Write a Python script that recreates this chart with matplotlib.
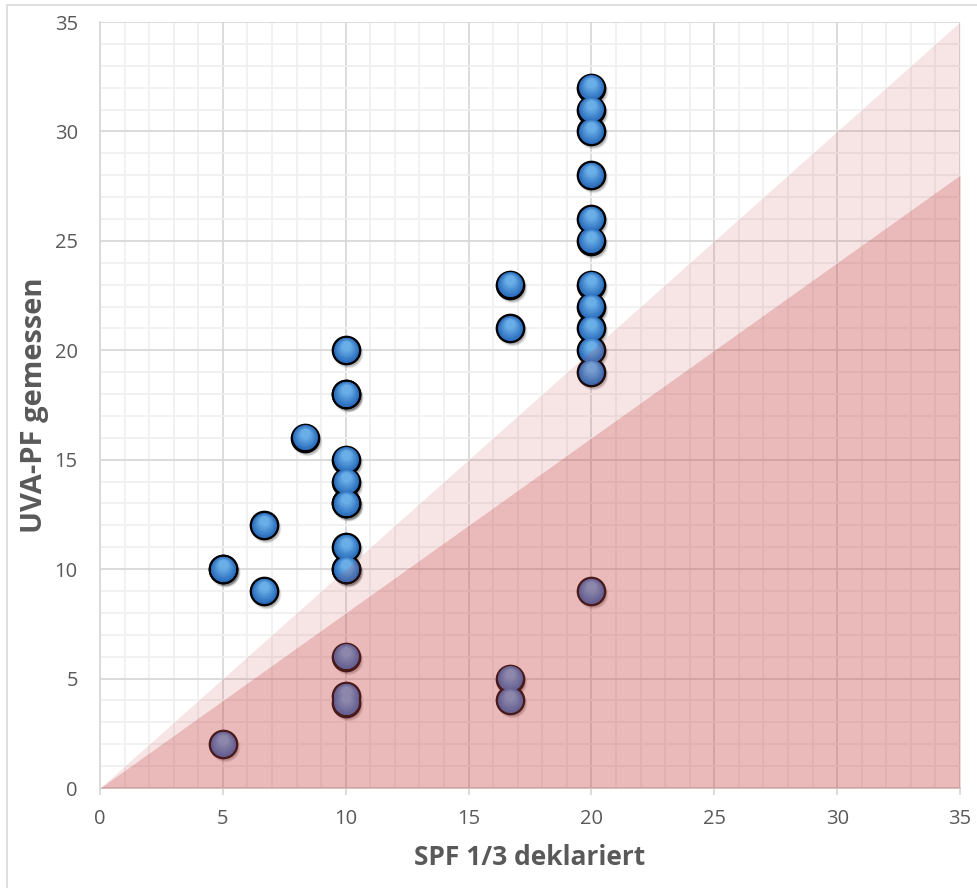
import numpy as np
import matplotlib
matplotlib.use("Agg")
import matplotlib.pyplot as plt
from matplotlib.transforms import offset_copy
from matplotlib.patches import Rectangle
from matplotlib.ticker import MultipleLocator
import matplotlib.colors as mcolors

# ---- data ----
spf_third = [20, 20, 20, 20, 20, 20, 20, 20, 20, 20, 20, 20,
             16.67, 16.67, 16.67, 16.67,
             10, 10, 10, 10, 10, 10, 10, 10, 10, 10, 10, 10, 10,
             8.33, 6.67, 6.67, 5, 5, 5]
uva_pf = [32, 31, 30, 28, 26, 25, 23, 22, 21, 20, 19, 9,
          23, 21, 5, 4,
          20, 18, 18, 15, 14, 13, 13, 11, 10, 6, 4.2, 3.9, 10,
          16, 12, 9, 10, 10, 2]
x_ticks = [0, 5, 10, 15, 20, 25, 30, 35]
y_ticks = [0, 5, 10, 15, 20, 25, 30, 35]
ratio_upper = 1.0   # UVA-PF = SPF/3 line
ratio_lower = 0.8   # UVA-PF = 0.8 * SPF/3 line
x_label = "SPF 1/3 deklariert"
y_label = "UVA-PF gemessen"

plt.rcParams['font.family'] = ['Open Sans', 'DejaVu Sans']

W, H, DPI = 978, 888, 100
fig = plt.figure(figsize=(W / DPI, H / DPI), dpi=DPI)
fig.patch.set_facecolor('white')
ax = fig.add_axes([100 / W, 1 - 788 / H, 860 / W, 766 / H])

# outer frame
fig.patches.append(Rectangle((7 / W, -0.1), 1.2, 1 - 5 / H + 0.1, transform=fig.transFigure,
                             fill=False, edgecolor='#D9D9D9', linewidth=1.2, zorder=0))

ax.set_xlim(0, 35)
ax.set_ylim(0, 35)
ax.xaxis.set_major_locator(MultipleLocator(5))
ax.yaxis.set_major_locator(MultipleLocator(5))
ax.xaxis.set_minor_locator(MultipleLocator(1))
ax.yaxis.set_minor_locator(MultipleLocator(1))
ax.set_xticks(x_ticks)
ax.set_yticks(y_ticks)
ax.grid(which='major', color='#D9D9D9', linewidth=1.3, zorder=0)
ax.grid(which='minor', color='#F0F0F0', linewidth=1.3, zorder=0)
ax.set_axisbelow(True)
for s in ['top', 'right']:
    ax.spines[s].set_visible(False)
for s in ['left', 'bottom']:
    ax.spines[s].set_color('#D9D9D9')
    ax.spines[s].set_linewidth(1.3)
ax.tick_params(axis='x', which='major', length=5, width=1.3, color='#D9D9D9',
               labelsize=14.5, labelcolor='#595959', pad=10)
ax.tick_params(axis='y', which='major', length=0, labelsize=14.5, labelcolor='#595959', pad=16)
ax.tick_params(which='minor', length=0)

ax.set_xlabel(x_label, fontsize=19, fontweight='bold', color='#595959', labelpad=11)
ax.set_ylabel(y_label, fontsize=21, fontweight='bold', color='#595959', labelpad=4)

# ---- markers ----
xs = np.array(spf_third)
ys = np.array(uva_pf)
S = 360
# shadow
for k, (grow, a) in enumerate([(1.3, 0.06), (1.15, 0.10), (1.0, 0.15)]):
    tr = offset_copy(ax.transData, fig=fig, x=2, y=-3, units='dots')
    ax.scatter(xs, ys, s=S * grow, color='black', alpha=a, linewidths=0, transform=tr, zorder=2)
# body
ax.scatter(xs, ys, s=S, facecolor='#245FA3', edgecolor='black', linewidths=2.4, zorder=3)
c0 = np.array(mcolors.to_rgb('#2A6EBD'))
c1 = np.array(mcolors.to_rgb('#6AAEE8'))
N = 10
r_pts = np.sqrt(S) / 2
for i in range(N):
    t = i / (N - 1)
    f = 0.95 - 0.6 * t
    shift = (1 - f) * r_pts * 0.55
    col = c0 * (1 - t) + c1 * t
    tr = offset_copy(ax.transData, fig=fig, x=0, y=shift, units='points')
    ax.scatter(xs, ys, s=S * f * f, color=col, linewidths=0, transform=tr, zorder=4)

# ---- shaded regions (drawn over markers, translucent) ----
xr = np.array([0, 35])
ax.fill_between(xr, ratio_lower * xr, ratio_upper * xr, color='#C84646', alpha=0.146,
                linewidth=0, zorder=6)
ax.fill_between(xr, 0, ratio_lower * xr, color='#C84646', alpha=0.373, linewidth=0, zorder=6)

fig.savefig('out.png', dpi=DPI)
